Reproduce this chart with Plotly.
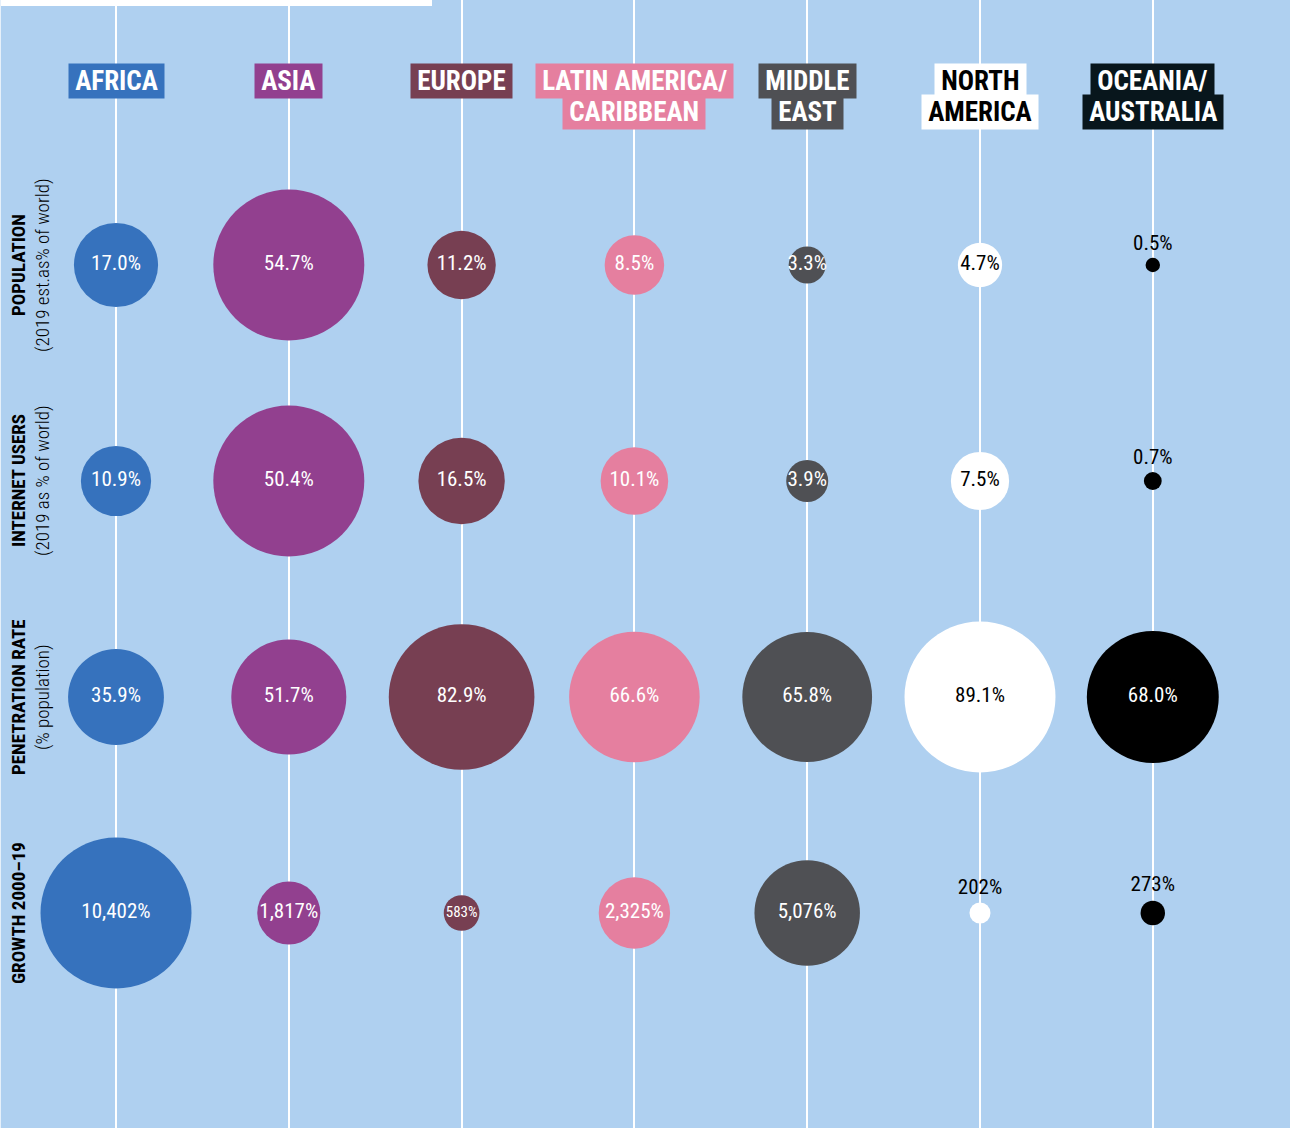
import plotly.graph_objects as go
import numpy as np

# ---------------- data ----------------
regions = ["Africa", "Asia", "Europe", "Latin America/Caribbean", "Middle East",
           "North America", "Oceania/Australia"]
header_line1 = ["AFRICA", "ASIA", "EUROPE", "LATIN AMERICA/", "MIDDLE", "NORTH", "OCEANIA/"]
header_line2 = ["", "", "", "CARIBBEAN", "EAST", "AMERICA", "AUSTRALIA"]

row_titles = ["POPULATION", "INTERNET USERS", "PENETRATION RATE", "GROWTH 2000–19"]
row_subtitles = ["(2019 est.as% of world)", "(2019 as % of world)", "(% population)", ""]

population = [17.0, 54.7, 11.2, 8.5, 3.3, 4.7, 0.5]
internet_users = [10.9, 50.4, 16.5, 10.1, 3.9, 7.5, 0.7]
penetration = [35.9, 51.7, 82.9, 66.6, 65.8, 89.1, 68.0]
growth = [10402, 1817, 583, 2325, 5076, 202, 273]

region_colors = ["#3672bd", "#92408f", "#773f52", "#e57f9f", "#4f5054", "#ffffff", "#000000"]
header_bg = ["#3672bd", "#92408f", "#773f52", "#e57f9f", "#4f5054", "#ffffff", "#08161c"]
header_fg = ["#ffffff", "#ffffff", "#ffffff", "#ffffff", "#ffffff", "#000000", "#ffffff"]

# ---------------- layout constants ----------------
W, H = 1290, 1128
BG = "#afd0f0"
FONT = "Roboto Condensed, Liberation Sans Narrow, Roboto, sans-serif"
MAX_D = 151  # px diameter of the largest bubble in each row
COL0, COLSTEP = 116, 172.8
ROW0, ROWSTEP = 265, 216

rows_values = [population, internet_users, penetration, growth]


def fmt(row, v):
    if row == 3:
        return f"{v:,}%"
    return f"{v:.1f}%"


fig = go.Figure()

for i, reg in enumerate(regions):
    xs, ys, sizes, texts, tpos, tcol, tsize = [], [], [], [], [], [], []
    for r, vals in enumerate(rows_values):
        d = MAX_D * np.sqrt(vals[i] / max(vals))
        xs.append(i)
        ys.append(r)
        sizes.append(d)
        texts.append(fmt(r, vals[i]))
        if d < 30:
            tpos.append("top center")
            tcol.append("#000000")
            tsize.append(21)
        else:
            tpos.append("middle center")
            tcol.append("#000000" if region_colors[i] == "#ffffff" else "#ffffff")
            tsize.append(15 if d < 36.5 else 21)
    fig.add_trace(go.Scatter(
        x=xs, y=ys, mode="markers+text",
        marker=dict(size=sizes, sizemode="diameter", color=region_colors[i],
                    line=dict(width=0), opacity=1),
        text=texts, textposition=tpos,
        textfont=dict(family=FONT, color=tcol, size=tsize),
        hoverinfo="skip", showlegend=False, cliponaxis=False, name=reg,
    ))

annotations = []
for i in range(len(regions)):
    for k, line in enumerate([header_line1[i], header_line2[i]]):
        if not line:
            continue
        annotations.append(dict(
            x=i, xref="x", y=1 - (81 + 31 * k) / H, yref="paper",
            text="\u2009" + line + "\u2009", showarrow=False, bgcolor=header_bg[i], borderpad=1,
            font=dict(family=FONT, size=27, color=header_fg[i], weight="bold"),
            xanchor="center", yanchor="middle",
        ))

# row labels (rotated)
for r in range(len(row_titles)):
    annotations.append(dict(
        x=18 / W, xref="paper", y=r, yref="y", text=row_titles[r], textangle=-90,
        showarrow=False, xanchor="center", yanchor="middle",
        font=dict(family=FONT, size=19, color="#000000", weight="bold"),
    ))
    if row_subtitles[r]:
        annotations.append(dict(
            x=42 / W, xref="paper", y=r, yref="y", text=row_subtitles[r], textangle=-90,
            showarrow=False, xanchor="center", yanchor="middle",
            font=dict(family=FONT, size=19, color="#000000", weight=300),
        ))

x0 = -COL0 / COLSTEP
x1 = x0 + W / COLSTEP
y0 = -ROW0 / ROWSTEP
y1 = y0 + H / ROWSTEP

fig.update_layout(
    width=W, height=H, margin=dict(l=0, r=0, t=0, b=0),
    paper_bgcolor=BG, plot_bgcolor=BG,
    xaxis=dict(range=[x0, x1], tickvals=list(range(len(regions))), showticklabels=False,
               showgrid=True, gridcolor="#ffffff", gridwidth=2, zeroline=False,
               showline=False, fixedrange=True),
    yaxis=dict(range=[y1, y0], showgrid=False, showticklabels=False, zeroline=False,
               showline=False, fixedrange=True),
    annotations=annotations,
    shapes=[
        dict(type="rect", xref="paper", yref="paper", x0=0, x1=432 / W,
             y0=1 - 6 / H, y1=1, fillcolor="#ffffff", line=dict(width=0), layer="above"),
        dict(type="rect", xref="paper", yref="paper", x0=0, x1=1 / W,
             y0=0, y1=1, fillcolor="#e6f0fa", line=dict(width=0), layer="above"),
    ],
)

fig.write_html("out.html", config={"displayModeBar": False},
               post_script="document.body.style.margin='0';")
